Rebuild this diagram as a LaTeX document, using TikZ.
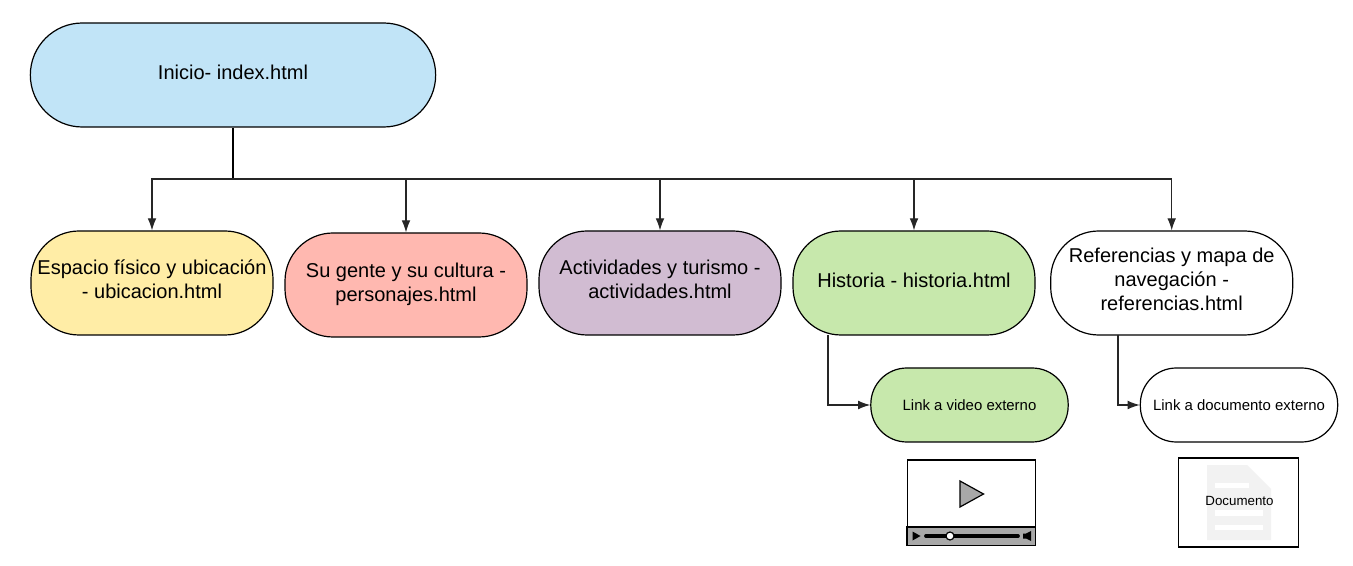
\documentclass[tikz,border=0pt]{standalone}
\usepackage{fontspec}
\setmainfont{Liberation Sans}
\usepackage{tikz}
\usetikzlibrary{arrows.meta,positioning,calc}

\definecolor{inicioblue}{HTML}{C1E4F7}
\definecolor{espacioyellow}{HTML}{FFEDA6}
\definecolor{gentered}{HTML}{FFB8B0}
\definecolor{actpurple}{HTML}{D1BCD2}
\definecolor{histgreen}{HTML}{C7E8AC}
\definecolor{iconpage}{HTML}{F2F2F2}
\definecolor{icongray}{HTML}{A8A8A8}

\begin{document}
\begin{tikzpicture}[x=0.75pt, y=-0.75pt,
    page/.style={rectangle, draw=black, line width=0.9pt, rounded corners=36pt,
                minimum width=181.5pt, minimum height=78pt, inner sep=0pt,
                align=center, text height=#1, text depth=0pt,
                font=\fontsize{15pt}{18pt}\selectfont},
    linkbox/.style={rectangle, draw=black, line width=0.9pt, rounded corners=27pt,
                minimum width=148pt, minimum height=55.5pt, inner sep=0pt,
                font=\fontsize{11.2pt}{13pt}\selectfont},
    iconframe/.style={rectangle, draw=black, line width=0.85pt, fill=white, inner sep=0pt},
    arr/.style={-{Latex[length=9pt,width=6.5pt]}, line width=0.85pt, black!85},
    trunk/.style={line width=1.5pt, black},
]
\useasboundingbox (0,0) rectangle (1353,566);

% --- Pages ---
\node[page=7.5pt, fill=inicioblue, minimum width=304pt, rounded corners=39pt] (inicio) at (233,75) {Inicio- index.html};
\node[page=24pt, fill=espacioyellow] (espacio) at (152,283) {Espacio físico y ubicación\\- ubicacion.html};
\node[page=25.5pt, fill=gentered] (gente) at (406,285) {Su gente y su cultura -\\personajes.html};
\node[page=24pt, fill=actpurple] (actividades) at (660,283) {Actividades y turismo -\\actividades.html};
\node[page=7.5pt, fill=histgreen] (historia) at (914,283) {Historia - historia.html};
\node[page=42pt] (referencias) at (1171.7,283) {Referencias y mapa de\\navegación -\\referencias.html};

% --- External links ---
\node[linkbox, fill=histgreen] (video) at (969.5,405) {Link a video externo};
\node[linkbox] (documento) at (1239,405) {Link a documento externo};

% --- Connectors ---
\coordinate (bus) at (233,179);
\coordinate (histout) at (828,335);
\coordinate (refout) at (1118,335);
\draw[trunk] (inicio.south) -- (bus) -- (bus -| historia.north);
\draw[arr] (bus) -| (espacio.north);
\draw[arr] (bus) -| (gente.north);
\draw[arr] (bus) -| (actividades.north);
\draw[arr] (bus) -| (historia.north);
\draw[arr] (bus) -| (referencias.north);
\draw[arr] (histout) |- (video.west);
\draw[arr] (refout) |- (documento.west);

% --- Video icon ---
\node[iconframe, minimum width=96pt, minimum height=63.75pt] (player) at (971.5,502.5) {};
\draw[black, line width=0.85pt, fill=icongray] (player.south west) rectangle (1035.5,527);
\draw[black, line width=0.9pt, fill=icongray] (960,481) -- (983.5,494) -- (960,507) -- cycle;
\fill[black] (912.5,531.5) -- (920.5,536) -- (912.5,540.5) -- cycle;
\draw[black, line width=2.8pt, line cap=round] (926,536) -- (1018,536);
\draw[black, line width=0.9pt, fill=white] (950,536) circle (4);
\fill[black] (1031,531) -- (1031,541) -- (1026,538.5) -- (1023,538.5) -- (1023,533.5) -- (1026,533.5) -- cycle;

% --- Document icon ---
\node[iconframe, minimum width=90pt, minimum height=66.75pt] (docicon) at (1238.5,502.5) {};
\fill[iconpage] (1207,465) -- (1247,465) -- (1271,489) -- (1271,540) -- (1207,540) -- cycle;
\fill[white] (1215,483) rectangle (1249,488);
\fill[white] (1215,510) rectangle (1263,516);
\fill[white] (1215,525) rectangle (1263,530);
\node[font=\fontsize{10pt}{12pt}\selectfont] (doclabel) at (1239.5,500.5) {Documento};

\end{tikzpicture}
\end{document}
